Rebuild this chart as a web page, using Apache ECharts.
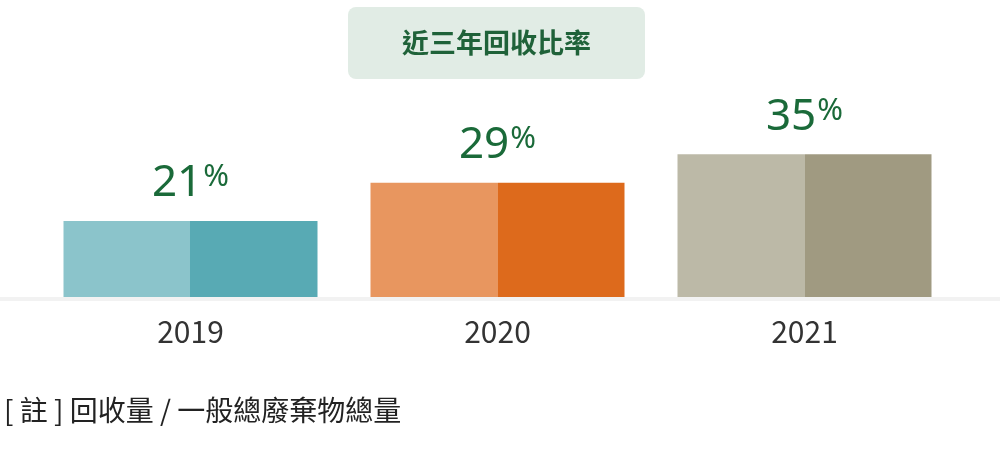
<!DOCTYPE html>
<html>
<head>
<meta charset="utf-8">
<script src="https://cdn.jsdelivr.net/npm/echarts@6/dist/echarts.min.js"></script>
<style>
html,body{margin:0;padding:0;background:#fff;}
#c{width:1000px;height:456px;}
</style>
</head>
<body>
<div id="c"></div>
<script>
const years = ['2019', '2020', '2021'];
const rates = [21, 29, 35];
const lightColors = ['#8BC4CB', '#E8965F', '#BCB9A7'];
const darkColors = ['#58AAB4', '#DD6A1C', '#A09A81'];
const titleText = '近三年回收比率';
const noteText = '[ 註 ] 回收量 / 一般總廢棄物總量';

const FONT = '"Noto Sans CJK TC", "Noto Sans", sans-serif';
const NUMFONT = '"Noto Sans", sans-serif';
const chart = echarts.init(document.getElementById('c'));

function split(light, dark) {
  return new echarts.graphic.LinearGradient(0, 0, 1, 0, [
    { offset: 0, color: light }, { offset: 0.5, color: light },
    { offset: 0.5, color: dark }, { offset: 1, color: dark }
  ]);
}

chart.setOption({
  animation: false,
  backgroundColor: '#fff',
  title: {
    text: titleText,
    left: 348,
    top: 7,
    backgroundColor: '#E1ECE5',
    borderRadius: 8,
    padding: [22, 54, 22, 54],
    textStyle: { fontFamily: FONT, fontSize: 27, fontWeight: 'bold', color: '#1F6239', lineHeight: 28 }
  },
  grid: { left: 37, right: 42, top: 83, bottom: 159 },
  xAxis: {
    type: 'category',
    data: years,
    axisLine: { show: false },
    axisTick: { show: false },
    axisLabel: { fontFamily: FONT, fontSize: 30, color: '#333', margin: 20 }
  },
  yAxis: {
    type: 'value', min: 5, max: 50, show: false, splitLine: { show: false }
  },
  graphic: [
    { type: 'rect', shape: { x: 0, y: 297, width: 1000, height: 4 }, style: { fill: '#F2F2F2' }, z: -1 },
    { type: 'text', left: 4, top: 396, style: { text: noteText, font: '28px ' + FONT, fill: '#222' } }
  ],
  series: [{
    type: 'bar',
    barWidth: 254,
    data: rates.map((v, i) => ({ value: v, itemStyle: { color: split(lightColors[i], darkColors[i]) } })),
    label: {
      show: true,
      position: 'top',
      distance: 12,
      formatter: '{n|{c}}{p|%}',
      rich: {
        n: { fontFamily: NUMFONT, fontSize: 44, color: '#1A6A39', lineHeight: 50 },
        p: { fontFamily: NUMFONT, fontSize: 31, color: '#1A6A39', verticalAlign: 'top', lineHeight: 31, padding: [3, 0, 0, 1] }
      }
    }
  }]
});
</script>
</body>
</html>
